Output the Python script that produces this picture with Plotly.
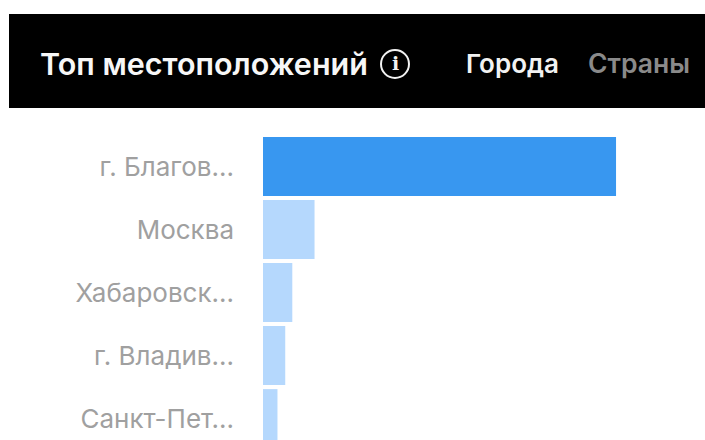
import plotly.graph_objects as go

W, H = 705, 440

cities = ["г. Благов...", "Москва", "Хабаровск...", "г. Владив...", "Санкт-Пет..."]
shares = [100, 14.6, 8.3, 6.3, 4.1]
bar_colors = ["#3897f0", "#b5d8fd", "#b5d8fd", "#b5d8fd", "#b5d8fd"]

heading = "Топ местоположений"
tab_active = "Города"
tab_inactive = "Страны"


def px(x):
    return x / W


def py(y):
    return 1 - y / H


fig = go.Figure(
    go.Bar(
        x=shares,
        y=cities,
        orientation="h",
        marker=dict(color=bar_colors, line=dict(width=0)),
        hoverinfo="skip",
    )
)


def label(text, x, anchor, size, color, weight="normal", family="Inter, sans-serif"):
    fig.add_annotation(
        text=text,
        xref="paper",
        yref="paper",
        x=px(x),
        y=py(63.5),
        xanchor=anchor,
        yanchor="middle",
        showarrow=False,
        xshift=0,
        font=dict(family=family, size=size, color=color, weight=weight),
    )


# Header band
fig.add_shape(
    type="rect", xref="paper", yref="paper",
    x0=px(9), x1=1, y0=py(108), y1=py(14),
    fillcolor="#000000", line=dict(width=0), layer="below",
)
# Info icon ring
fig.add_shape(
    type="circle", xref="paper", yref="paper",
    x0=px(381), x1=px(409), y0=py(78), y1=py(50),
    fillcolor="rgba(0,0,0,0)", line=dict(color="#f2f2f2", width=2),
)

label(heading, 38, "left", 30.5, "#f7f7f7", weight=600)
label("i", 395, "center", 19, "#f2f2f2", weight="bold", family="DejaVu Serif, serif")
label(tab_active, 464, "left", 26, "#f2f2f2", weight=600)
label(tab_inactive, 586, "left", 26.5, "#8a8a8a", weight=600)

fig.update_layout(
    width=W,
    height=H,
    margin=dict(l=0, r=0, t=0, b=0),
    paper_bgcolor="#ffffff",
    plot_bgcolor="#ffffff",
    bargap=0.065,
    showlegend=False,
    xaxis=dict(
        domain=[px(263), 1],
        range=[0, 125.2],
        visible=False,
        fixedrange=True,
    ),
    yaxis=dict(
        domain=[0, py(135)],
        type="category",
        range=[4.34, -0.5],
        automargin=False,
        showgrid=False,
        showline=False,
        zeroline=False,
        ticks="",
        ticklabelstandoff=28,
        tickfont=dict(family="Inter, sans-serif", size=26, color="#a0a0a0"),
        fixedrange=True,
    ),
)

fig.write_html("out.html", config={"displayModeBar": False})
